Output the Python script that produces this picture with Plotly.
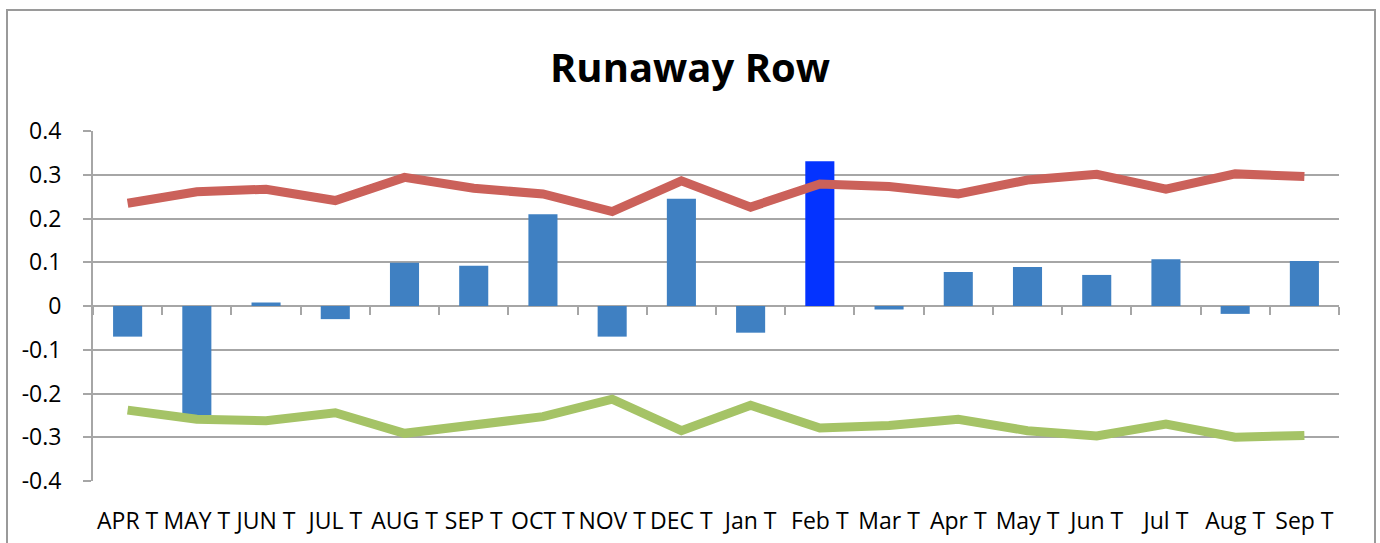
import plotly.graph_objects as go

categories = ["APR T", "MAY T", "JUN T", "JUL T", "AUG T", "SEP T", "OCT T", "NOV T", "DEC T",
              "Jan T", "Feb T", "Mar T", "Apr T", "May T", "Jun T", "Jul T", "Aug T", "Sep T"]
bar_values = [-0.070, -0.249, 0.008, -0.030, 0.099, 0.092, 0.210, -0.070, 0.245,
              -0.061, 0.331, -0.008, 0.078, 0.089, 0.071, 0.107, -0.018, 0.103]
upper_values = [0.235, 0.261, 0.267, 0.241, 0.294, 0.269, 0.256, 0.216, 0.286,
                0.226, 0.279, 0.273, 0.256, 0.288, 0.301, 0.267, 0.302, 0.296]
lower_values = [-0.238, -0.259, -0.262, -0.244, -0.291, -0.270, -0.253, -0.213, -0.285,
                -0.227, -0.279, -0.273, -0.259, -0.285, -0.297, -0.270, -0.300, -0.296]
y_ticks = [0.4, 0.3, 0.2, 0.1, 0, -0.1, -0.2, -0.3, -0.4]
highlight = "Feb T"

FONT = "Open Sans"
GRID = "#A6A6A6"
W, H = 1380, 543
L, R, T, B = 93, 41, 131, 62
plot_w, plot_h = W - L - R, H - T - B

bar_colors = ["#0433FF" if c == highlight else "#3F80C2" for c in categories]

fig = go.Figure()
fig.add_trace(go.Bar(x=categories, y=bar_values, marker_color=bar_colors,
                     marker_line_width=0, width=0.42, showlegend=False))
fig.add_trace(go.Scatter(x=categories, y=upper_values, mode="lines",
                         line=dict(color="#CB615A", width=9), showlegend=False))
fig.add_trace(go.Scatter(x=categories, y=lower_values, mode="lines",
                         line=dict(color="#A5C366", width=9), showlegend=False))
# helper trace so the zero-crossing category axis (tick marks) gets drawn
fig.add_trace(go.Scatter(x=categories, y=bar_values, mode="lines", opacity=0,
                         line=dict(width=0), xaxis="x2", showlegend=False,
                         hoverinfo="skip"))

fig.update_layout(
    width=W, height=H,
    margin=dict(l=L, r=R, t=T, b=B),
    paper_bgcolor="white", plot_bgcolor="white",
    font=dict(family=FONT, size=23, color="black"),
    title=dict(text="<b>Runaway Row</b>", x=690 / W, xanchor="center",
               y=1 - 68 / H, yanchor="middle", yref="container",
               font=dict(family=FONT, size=40, color="black")),
    xaxis=dict(type="category", categoryorder="array", categoryarray=categories,
               range=[-0.5, len(categories) - 0.5], showgrid=False, showline=False,
               ticks="", ticklabelstandoff=24, tickangle=0, automargin=False,
               tickfont=dict(size=23)),
    xaxis2=dict(type="category", categoryorder="array", categoryarray=categories,
                range=[-0.5, len(categories) - 0.5], overlaying="x", anchor="free",
                position=0.5, side="bottom", showgrid=False, showline=False,
                showticklabels=False, ticks="outside", tickson="boundaries",
                ticklen=8, tickwidth=2, tickcolor=GRID, automargin=False),
    yaxis=dict(range=[-0.4, 0.4], tickvals=y_ticks,
               ticktext=[f"{v:g}" for v in y_ticks],
               showgrid=True, gridcolor=GRID, gridwidth=2,
               zeroline=True, zerolinecolor=GRID, zerolinewidth=2,
               showline=True, linecolor=GRID, linewidth=2,
               ticks="outside", ticklen=8, tickwidth=2, tickcolor=GRID,
               ticklabelstandoff=17, automargin=False, tickfont=dict(size=23)),
    bargap=0.58,
)

# chart frame: left at x=7, right at x=1375, top at y=10 (pixels)
fig.add_shape(type="rect", xref="paper", yref="paper",
              x0=(7 - L) / plot_w, x1=(1375 - L) / plot_w,
              y0=-0.4, y1=(H - B - 10) / plot_h,
              line=dict(color="#9A9A9A", width=2), layer="below")

fig.write_html("out.html", config={"displayModeBar": False},
               post_script="document.body.style.margin='0';"
                           "document.body.style.overflow='hidden';")
